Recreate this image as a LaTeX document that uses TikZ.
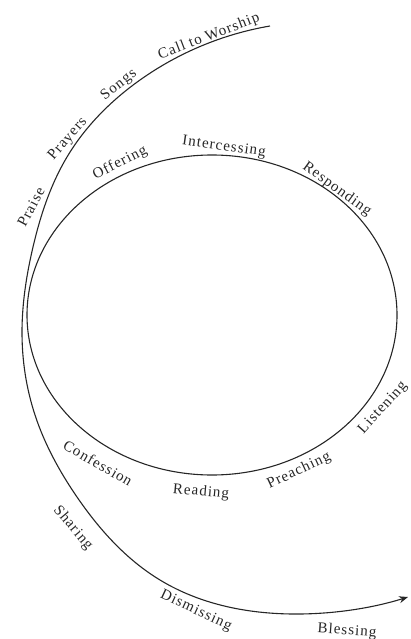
\documentclass[tikz,border=0pt]{standalone}
\usepackage{fontspec}
\setmainfont{Liberation Serif}[LetterSpace=7]
\usetikzlibrary{arrows.meta,hobby}
\begin{document}
\begin{tikzpicture}[x=1pt,y=-1pt,
  lbl/.style={font=\fontsize{15}{17}\selectfont, inner sep=0pt, text=black!85},
  path line/.style={line width=1.1pt, black!85}]
\useasboundingbox (0,0) rectangle (411,639);
% inner loop
\draw[path line] (212,315) ellipse [x radius=185, y radius=160];
% outer spiral path
\coordinate (s) at (270,26);
\coordinate (e) at (408,597);
\draw[path line, -{Stealth[length=9pt,width=7pt]}, use Hobby shortcut]
  (s) .. (140,80) .. (67,157) .. (33,247) .. (22,333) .. (35,415) .. (77,497) .. (160,580) .. (300,614) .. (e);
% outer labels
\node[lbl, rotate=21] (cw) at (209,37) {Call to Worship};
\node[lbl, rotate=38] (so) at (119,85) {Songs};
\node[lbl, rotate=49] (pr) at (68,139) {Prayers};
\node[lbl, rotate=62] (pa) at (31,207) {Praise};
\node[lbl, rotate=-50] (sh) at (73,528) {Sharing};
\node[lbl, rotate=-25] (di) at (196,611) {Dismissing};
\node[lbl, rotate=-4] (bl) at (347,631) {Blessing};
% inner labels
\node[lbl, rotate=27] (of) at (120,163) {Offering};
\node[lbl, rotate=-8] (in) at (224,147) {Intercessing};
\node[lbl, rotate=-36] (re) at (337,189) {Responding};
\node[lbl, rotate=48] (li) at (383,408) {Listening};
\node[lbl, rotate=25] (pc) at (299,471) {Preaching};
\node[lbl, rotate=-5] (rd) at (201,492) {Reading};
\node[lbl, rotate=-30] (cf) at (98,463) {Confession};
\end{tikzpicture}
\end{document}
